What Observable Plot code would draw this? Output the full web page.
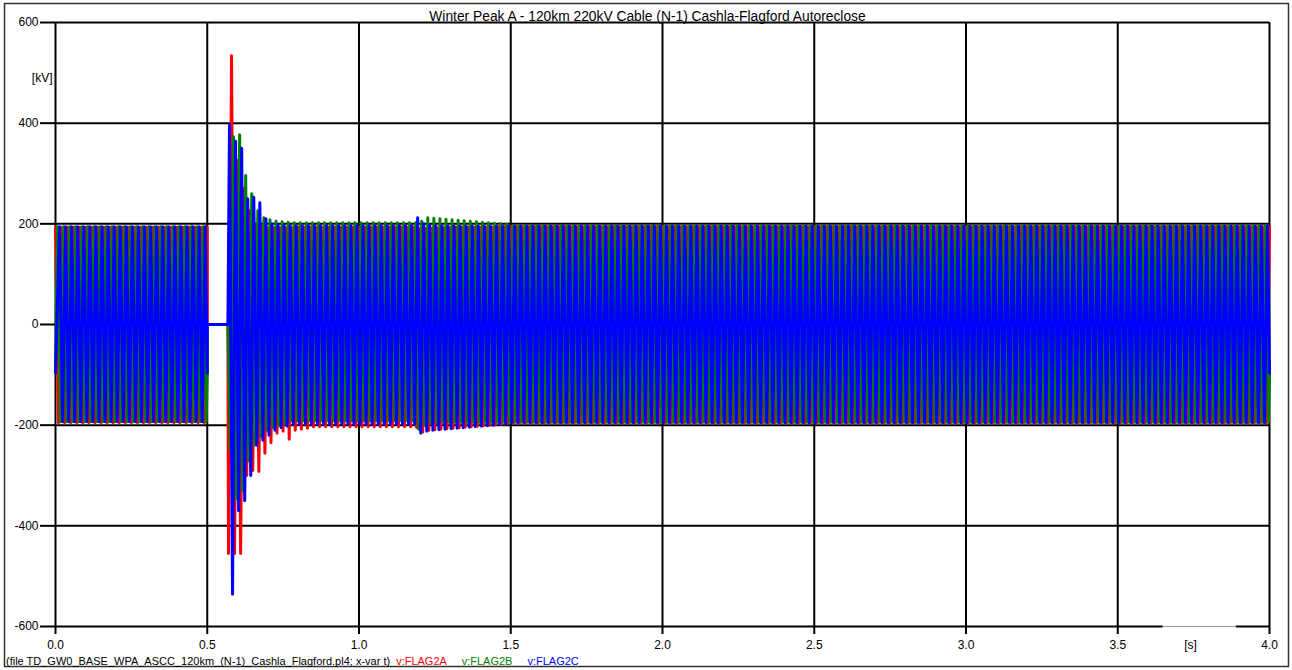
<!DOCTYPE html>
<html>
<head>
<meta charset="utf-8">
<script src="https://cdn.jsdelivr.net/npm/d3@7"></script>
<script src="https://cdn.jsdelivr.net/npm/@observablehq/plot@0.6"></script>
<style>
  html, body { margin: 0; padding: 0; background: #fff; }
  #chart svg { display: block; font-family: "Liberation Sans", Arial, sans-serif; }
</style>
</head>
<body>
<div id="chart"></div>
<script>
// ---- texts ----
const title = "Winter Peak A - 120km 220kV Cable (N-1) Cashla-Flagford Autoreclose";
const fileNote = "(file TD_GW0_BASE_WPA_ASCC_120km_(N-1)_Cashla_Flagford.pl4; x-var t)";
const phaseNames = ["v:FLAG2A", "v:FLAG2B", "v:FLAG2C"];
const phaseColors = ["#ff0000", "#008000", "#0000ff"];

// ---- axes ----
const xTicks = [0, 0.5, 1.0, 1.5, 2.0, 2.5, 3.0, 3.5, 4.0];
const yTicks = [-600, -400, -200, 0, 200, 400, 600];
const unitX = 3.74;             // where the "[s]" unit sits on the time axis
const unitGap = [3.65, 3.89];   // stretch of the bottom border hidden behind "[s]"

// ---- waveform timing (50 Hz system, one crest every 10 ms) ----
const halfPeriod = 0.01;
const firstCrest = [0, 0.00667, 0.01333];   // time of first positive crest per phase [s]
const startValue = [193, -97, -97];         // kV at t = 0
const openTime = 0.5;                       // breakers open
const openValue = [193, -97, -97];          // kV just before opening
const recloseTime = 0.568;                  // autoreclose
const eventTime = 1.19;                     // second (remote end) switching
const endTime = 4.0;
const endValue = [193, -97, -97];

// crest levels [positive, negative] in the quiet stretches
const preFaultCrest = [[193, -195], [194, -193], [194, -193]];
const settledCrest  = [[193, -203], [202, -191], [196, -198]];   // ~0.8 s .. 1.19 s
const finalCrest    = [[194, -195], [196, -194], [195, -195]];   // ~1.5 s .. 4.0 s

// crests after reclosing, one per half cycle
const recloseCrestsA = [-455, 534, -455, 326, -455, 270, -300, 226, -290, 200, -292, 195,
  -256, 192, -235, 192, -216, 192, -212, 192, -228, 192, -210, 193, -208, 193, -206];
const recloseCrestsB = [-250, 373, -346, 377, -330, 296, -270, 260, -240, 226, -222, 212,
  -210, 208, -205, 205, -200, 204, -196, 203];
const recloseCrestsC = [397, -536, 364, -370, 350, -350, 250, -300, 253, -240, 242, -230,
  210, -220, 200, -210, 198, -205, 197, -202];

// crests after the second switching event
const eventCrestsA = [-205, 190, -214, 190, -210, 191, -209, 191, -208, 192, -207, 192,
  -206, 193, -205, 193, -204, 193, -203, 193, -202, 193, -201, 193, -200, 193, -199, 194, -198, 194];
const eventCrestsB = [-208, 205, -200, 212, -196, 211, -195, 210, -194, 209, -194, 208,
  -194, 207, -194, 206, -194, 205, -194, 204, -194, 203, -194, 202, -194, 201, -194, 200, -194, 199];
const eventCrestsC = [212, -216, 200, -212, 197, -210, 196, -209, 196, -208, 195, -207,
  195, -206, 195, -205, 195, -204, 195, -203, 195, -202, 195, -201, 195, -200, 195, -199, 195, -198];

const recloseCrests = [recloseCrestsA, recloseCrestsB, recloseCrestsC];
const eventCrests = [eventCrestsA, eventCrestsB, eventCrestsC];

// Build one phase voltage as a polyline through its crests.
function phaseSeries(p) {
  const name = phaseNames[p];
  const crestTime = k => +(firstCrest[p] + k * halfPeriod).toFixed(6);
  const level = (lv, k) => (k % 2 === 0 ? lv[0] : lv[1]);
  const pts = [{t: 0, v: startValue[p], phase: name}];
  let k = 0;
  for (; crestTime(k) < openTime; k++) {
    if (crestTime(k) > 0) pts.push({t: crestTime(k), v: level(preFaultCrest[p], k), phase: name});
  }
  pts.push({t: openTime, v: openValue[p], phase: name});
  pts.push({t: openTime, v: 0, phase: name});
  pts.push({t: recloseTime, v: 0, phase: name});
  while (crestTime(k) <= recloseTime) k++;
  for (const v of recloseCrests[p]) { pts.push({t: crestTime(k), v, phase: name}); k++; }
  for (; crestTime(k) < eventTime; k++) pts.push({t: crestTime(k), v: level(settledCrest[p], k), phase: name});
  for (const v of eventCrests[p]) { pts.push({t: crestTime(k), v, phase: name}); k++; }
  for (; crestTime(k) < endTime - 1e-9; k++) pts.push({t: crestTime(k), v: level(finalCrest[p], k), phase: name});
  pts.push({t: endTime, v: endValue[p], phase: name});
  return pts;
}

const waves = [0, 1, 2].flatMap(phaseSeries);

const plot = Plot.plot({
  width: 1292,
  height: 670,
  marginLeft: 55,
  marginRight: 23,
  marginTop: 22,
  marginBottom: 44,
  style: {fontFamily: "'Liberation Sans', Arial, sans-serif", background: "#fff"},
  x: {domain: [0, 4]},
  y: {domain: [-600, 600]},
  color: {domain: phaseNames, range: phaseColors},
  marks: [
    // grid
    Plot.ruleX(xTicks, {stroke: "#000", strokeWidth: 2}),
    Plot.ruleY(yTicks, {stroke: "#000", strokeWidth: 2}),
    // voltages
    Plot.line(waves, {x: "t", y: "v", z: "phase", stroke: "phase", strokeWidth: 3}),
    // axes
    Plot.axisY({ticks: yTicks, tickSize: 15, tickPadding: 2, tickFormat: d => String(d),
      strokeWidth: 2, fontSize: 12, label: null, color: "#000"}),
    Plot.axisX({ticks: xTicks, tickSize: 8, tickPadding: 6, tickFormat: d => d.toFixed(1),
      strokeWidth: 2, fontSize: 12, label: null, color: "#000"}),
    // bottom border, partly hidden behind the unit label
    Plot.ruleY([-600], {x1: unitGap[0], x2: unitGap[1], stroke: "#fff", strokeWidth: 3}),
    Plot.ruleY([-600], {x1: unitGap[0], x2: unitGap[1], stroke: "#999", strokeWidth: 1}),
    // units
    Plot.text(["[kV]"], {frameAnchor: "top-left", dx: -3, dy: 51, textAnchor: "end", fontSize: 12, fill: "#000"}),
    Plot.text([unitX], {x: d => d, frameAnchor: "bottom", lineAnchor: "top", dy: 14, text: () => "[s]", fontSize: 12, fill: "#000"}),
    // title
    Plot.text([title], {frameAnchor: "top", dx: -15, dy: -11, fontSize: 13.8, fill: "#000"})
  ]
});

const svg = d3.select(plot);
svg.attr("overflow", "visible");
// outer border
svg.append("rect")
  .attr("x", 4.5).attr("y", 3.5).attr("width", 1284).attr("height", 663)
  .attr("fill", "none").attr("stroke", "#333").attr("stroke-width", 1.5);
// file note and curve legend
const note = svg.append("text")
  .attr("x", 6).attr("y", 665)
  .attr("text-anchor", "start")
  .attr("font-size", 11).attr("fill", "#000");
note.append("tspan").text(fileNote);
phaseNames.forEach((name, i) => {
  note.append("tspan").attr("dx", i === 0 ? 6 : 15).attr("fill", phaseColors[i]).text(name);
});

document.getElementById("chart").appendChild(plot);
</script>
</body>
</html>
